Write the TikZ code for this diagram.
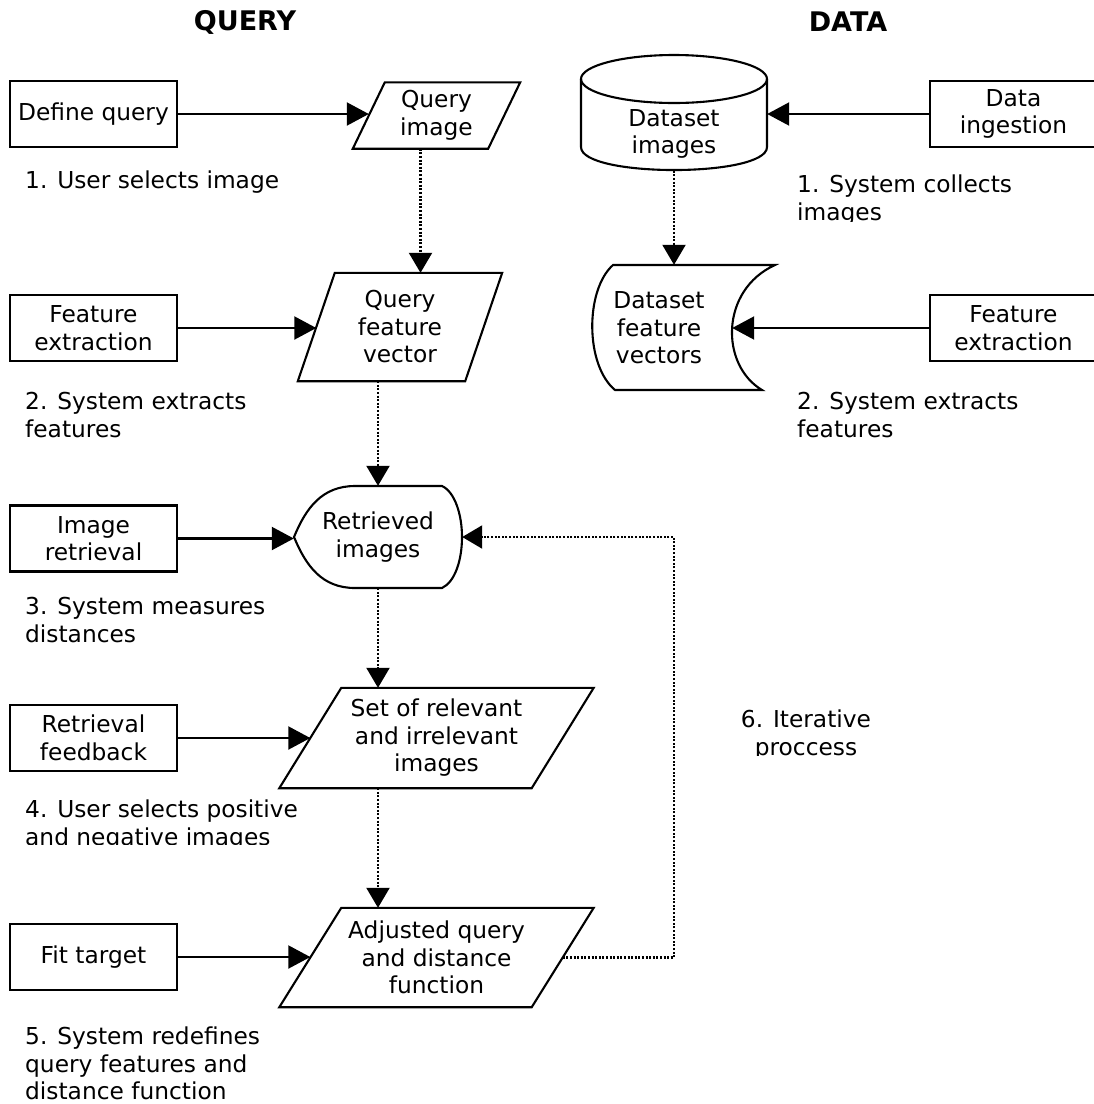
\documentclass[tikz,border=0pt]{standalone}
\usepackage{fontspec}
\setmainfont{DejaVu Sans}
\usetikzlibrary{arrows.meta,calc}
\tikzset{
  txt/.style={font=\fontsize{23.3}{27.5}\selectfont},
  box/.style={draw, line width=2.1pt, minimum width=167, minimum height=66, align=center, inner sep=0, txt},
  holder/.style={inner sep=0, align=center, txt},
  arr/.style={line width=2.1pt, -{Triangle[length=22pt,width=23pt]}},
  dotarr/.style={line width=2.1pt, dash pattern=on 2pt off 1.6pt, -{Triangle[length=20pt,width=23pt]}},
  shp/.style={line width=2.1pt, line join=miter},
  lbl/.style={txt, anchor=north west, inner sep=0, align=left},
  title/.style={font=\fontsize{27}{32}\selectfont\bfseries}
}
\newcommand\slantbox[2]{\draw[shp] ([xshift=#2*0.5pt]#1.north west) -- ([xshift=#2*0.5pt]#1.north east) -- ([xshift=-#2*0.5pt]#1.south east) -- ([xshift=-#2*0.5pt]#1.south west) -- cycle;}
\begin{document}
\begin{tikzpicture}[x=1pt,y=-1pt]
\useasboundingbox[fill=white] (0,0) rectangle (1094,1104);

% titles
\node[title] (tq) at (245,22) {QUERY};
\node[title] (td) at (848,22) {DATA};

% left process boxes
\node[box] (dq) at (93.5,114) {Define query};
\node[box] (fe1) at (93.5,328) {Feature\\extraction};
\node[box] (ir) at (93.5,538.5) {Image\\retrieval};
\node[box] (rf) at (93.5,738) {Retrieval\\feedback};
\node[box] (ft) at (93.5,957) {Fit target};

% query column shapes
\node[holder, minimum width=135, minimum height=66] (qimg) at (436.5,115.5) {Query\\image};
\slantbox{qimg}{32}
\node[holder, minimum width=167, minimum height=108] (qfv) at (400,327) {Query\\feature\\vector};
\slantbox{qfv}{37}
\node[holder, minimum width=168, minimum height=102] (ret) at (378,537) {Retrieved\\images};
\draw[shp] (294,537) .. controls (306,508) and (322,486) .. (355,486) -- (442,486)
  .. controls (455,492) and (462,515) .. (462,537)
  .. controls (462,560) and (455,582) .. (442,588) -- (355,588)
  .. controls (322,588) and (306,566) .. (294,537) -- cycle;
\node[holder, minimum width=252, minimum height=100] (set) at (436.5,738) {Set of relevant\\and irrelevant\\images};
\slantbox{set}{62}
\node[holder, minimum width=252, minimum height=99] (adj) at (436.5,957.5) {Adjusted query\\and distance\\function};
\slantbox{adj}{62}

% data column
\node[box] (din) at (1013.5,114) {Data\\ingestion};
\node[box] (fe2) at (1013.5,328) {Feature\\extraction};
\node[minimum width=186, minimum height=115, inner sep=0] (dimg) at (674,113) {};
\draw[shp] (674,79) ellipse [x radius=93pt, y radius=24pt];
\draw[shp] (581,79) -- (581,147) .. controls (581,177.7) and (767,177.7) .. (767,147) -- (767,79);
\node[holder] (dimgt) at (674,134) {Dataset\\images};
\node[minimum width=116, minimum height=125, inner sep=0] (dfv) at (674,327.5) {};
\draw[shp] (613,265) -- (775,265) .. controls (720,290) and (720,365) .. (762,390) -- (615,390)
  .. controls (585,365) and (585,290) .. (613,265) -- cycle;
\node[holder] (dfvt) at (659,328) {Dataset\\feature\\vectors};

% solid arrows
\draw[arr] (dq.east) -- (dq.east -| qimg.west);
\draw[arr] (fe1.east) -- (fe1.east -| qfv.west);
\draw[arr] (ir.east) -- (ir.east -| ret.west);
\draw[arr] (rf.east) -- (rf.east -| set.west);
\draw[arr] (ft.east) -- (ft.east -| adj.west);
\draw[arr] (din.west) -- (din.west -| dimg.east);
\draw[arr] (fe2.west) -- (fe2.west -| dfv.east);

% dotted arrows
\draw[dotarr] ([xshift=-16pt]qimg.south) -- ([xshift=-16pt]qimg.south |- qfv.north);
\draw[dotarr] (qfv.south -| ret.north) -- (ret.north);
\draw[dotarr] (ret.south) -- (ret.south |- set.north);
\draw[dotarr] (set.south -| ret.south) -- (adj.north -| ret.south);
\draw[dotarr] (dimg.south) -- (dfv.north);
\coordinate (lc) at (674,537);
\draw[dotarr] (adj.east) -| (lc) -- (ret.east);

% labels
\node[lbl] (l1) at (25,171) {1. User selects image};
\node[lbl] (l2) at (25,392) {2. System extracts\\features};
\node[lbl] (l3) at (25,597) {3. System measures\\distances};
\begin{scope}
\clip (0,780) rectangle (400,844);
\node[lbl] (l4) at (25,800) {4. User selects positive\\and negative images};
\end{scope}
\node[lbl] (l5) at (25,1027) {5. System redefines\\query features and\\distance function};
\begin{scope}
\clip (780,160) rectangle (1094,221);
\node[lbl] (r1) at (797,175) {1. System collects\\images};
\end{scope}
\node[lbl] (r2) at (797,392) {2. System extracts\\features};
\begin{scope}
\clip (700,690) rectangle (920,755);
\node[txt, align=center, anchor=north, inner sep=0] (l6) at (806,710) {6. Iterative\\proccess};
\end{scope}
\end{tikzpicture}
\end{document}
